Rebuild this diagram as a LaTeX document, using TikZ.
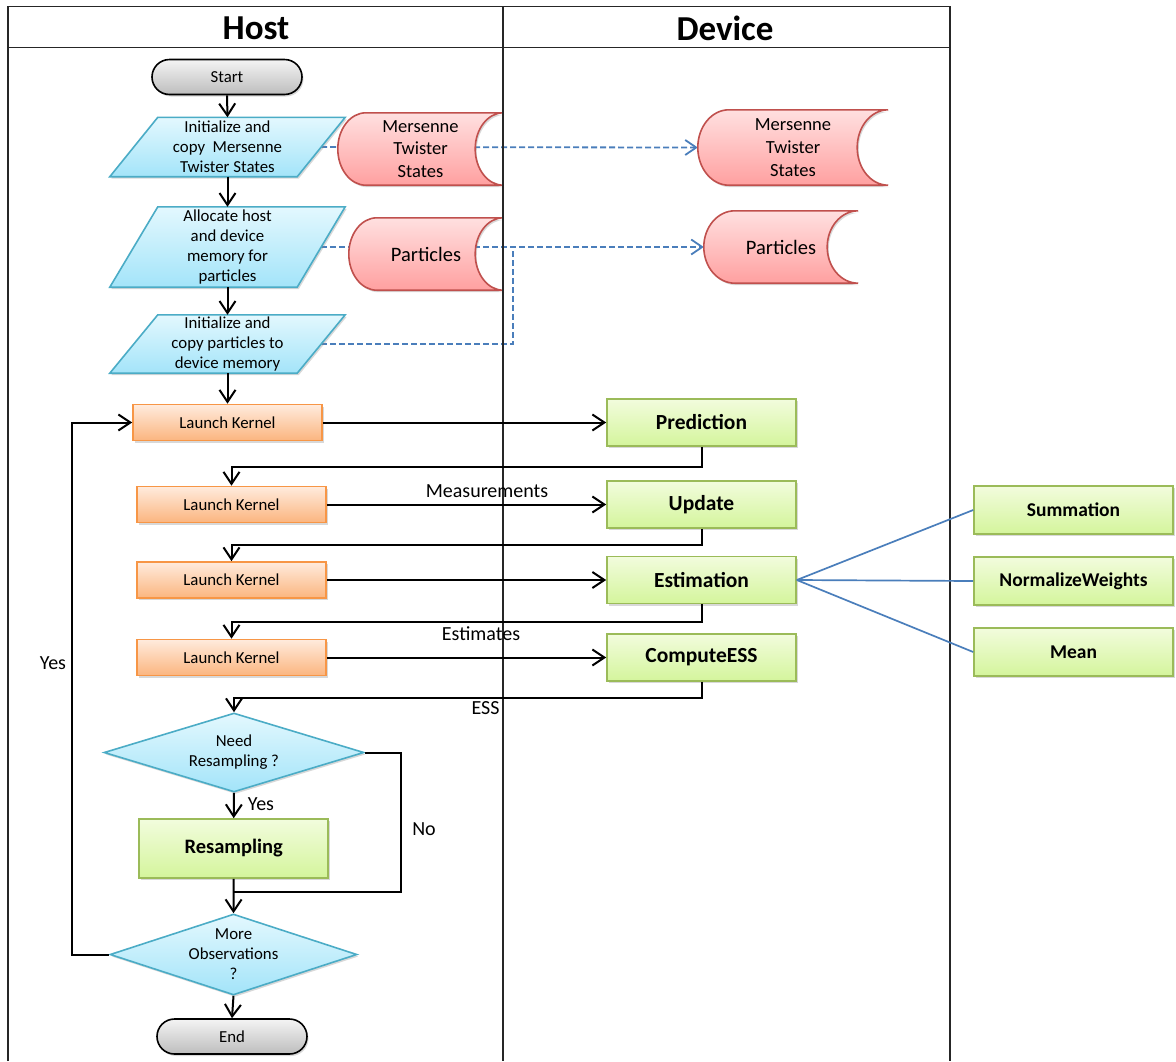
\documentclass[tikz,border=0pt]{standalone}
\usepackage{fontspec}
\setmainfont{Carlito}
\usetikzlibrary{arrows.meta,shapes.geometric,shadows,backgrounds,calc}
\pgfdeclarelayer{bottom}
\pgfsetlayers{bottom,background,main}
\definecolor{cyanB}{HTML}{4BACC6}
\definecolor{cyanT}{HTML}{E3F8FE}
\definecolor{cyanD}{HTML}{A3E4F9}
\definecolor{pinkB}{HTML}{C0504D}
\definecolor{pinkT}{HTML}{FFE0E0}
\definecolor{pinkD}{HTML}{FFA0A0}
\definecolor{orB}{HTML}{F79646}
\definecolor{orT}{HTML}{FFEBDD}
\definecolor{orD}{HTML}{FBB57F}
\definecolor{grB}{HTML}{9BBB59}
\definecolor{grT}{HTML}{F2FCDD}
\definecolor{grD}{HTML}{D4F59C}
\definecolor{gyT}{HTML}{F4F4F4}
\definecolor{gyD}{HTML}{BDBDBD}
\definecolor{lnB}{HTML}{4A7EBB}
\newcommand\pgshapeof[1]{\path[pgshape] ($(#1.south west)+(-24pt,0pt)$) -- ($(#1.south east)+(-24pt,0pt)$) -- ($(#1.north east)+(24pt,0pt)$) -- ($(#1.north west)+(24pt,0pt)$) -- cycle;}
\newcommand\stshapeof[2]{\path[stshape] let \p1=(#1.north west), \p2=(#1.south east), \n1={(\y1-\y2)/2} in
  (\x1+#2pt,\y1) -- (\x2,\y1) arc[start angle=90,end angle=270,x radius=#2pt,y radius=\n1]
  -- (\x1+#2pt,\y2) arc[start angle=270,end angle=90,x radius=#2pt,y radius=\n1] -- cycle;}
\begin{document}
\begin{tikzpicture}[x=1pt,y=-1pt,
  every node/.style={font=\fontsize{16.8}{20}\selectfont},
  shadowsty/.style={drop shadow={shadow xshift=1.5pt,shadow yshift=-2pt,opacity=0.3,fill=black!50}},
  term/.style={draw=black,line width=1.6pt,rounded corners=17.5pt,top color=gyT,bottom color=gyD,minimum width=150pt,minimum height=35pt,inner sep=0pt,shadowsty},
  lk/.style={draw=orB,line width=1.6pt,top color=orT,bottom color=orD,minimum width=189pt,minimum height=36pt,inner sep=0pt,shadowsty},
  gbox/.style={draw=grB,line width=1.6pt,top color=grT,bottom color=grD,minimum width=189pt,minimum height=47pt,inner sep=0pt,font=\bfseries\fontsize{21.5}{25}\selectfont,shadowsty},
  sbox/.style={gbox,minimum width=199pt,minimum height=48pt,font=\bfseries\fontsize{19.5}{23}\selectfont},
  dia/.style={diamond,draw=cyanB,line width=1.6pt,top color=cyanT,bottom color=cyanD,inner sep=0pt,shadowsty},
  pgtext/.style={inner sep=0pt,minimum width=187pt,align=center},
  pgshape/.style={draw=cyanB,line width=1.6pt,top color=cyanT,bottom color=cyanD,shadowsty},
  sttext/.style={inner sep=0pt,align=center,font=\fontsize{18.5}{22.5}\selectfont},
  stshape/.style={draw=pinkB,line width=1.6pt,top color=pinkT,bottom color=pinkD,shadowsty},
  conn/.style={draw=black,line width=2pt,-{Straight Barb[length=12pt,width=16pt]}},
  plain/.style={draw=black,line width=2pt},
  dconn/.style={draw=lnB,line width=1.8pt,dash pattern=on 6pt off 3pt,-{Straight Barb[length=11pt,width=15pt]}},
  dplain/.style={draw=lnB,line width=1.8pt,dash pattern=on 6pt off 3pt},
  bline/.style={draw=lnB,line width=1.7pt},
  lbl/.style={inner sep=0pt,font=\fontsize{20}{24}\selectfont},
  hdr/.style={inner sep=0pt,font=\bfseries\fontsize{35}{40}\selectfont},
  frame/.style={draw=black!85,line width=1.5pt}]
\useasboundingbox (0,0) rectangle (1176,1061);
\begin{pgfonlayer}{bottom}
  \fill[white] (0,0) rectangle (1176,1061);
\end{pgfonlayer}

% frame
\draw[frame] (8,1061) -- (8,6.5) -- (950,6.5) -- (950,1061);
\draw[frame] (8,47.5) -- (950,47.5);
\draw[frame,line width=2pt] (503,6.5) -- (503,1061);
\node[hdr] (hhost) at (256,28) {Host};
\node[hdr] (hdev) at (725,28) {Device};

% host column
\node[term] (start) at (227,77) {Start};
\node[pgtext,minimum height=59pt] (p1) at (227.5,147) {Initialize and\\copy~ Mersenne\\Twister States};
\node[pgtext,minimum height=80pt] (p2) at (227.5,247) {Allocate host\\and device\\memory for\\particles};
\node[pgtext,minimum height=58pt] (p3) at (227.5,344) {Initialize and\\copy particles to\\device memory};
\node[sttext,minimum width=165pt,minimum height=72pt] (s1) at (420.5,149) {Mersenne\\Twister\\States};
\node[sttext,minimum width=154pt,minimum height=72pt,font=\fontsize{20.5}{24}\selectfont] (s2) at (426,254) {Particles};
\node[sttext,minimum width=190pt,minimum height=75pt,font=\fontsize{18.5}{23}\selectfont] (s3) at (793,147.5) {Mersenne\\Twister\\States};
\node[sttext,minimum width=154pt,minimum height=72pt,font=\fontsize{20.5}{24}\selectfont] (s4) at (781,247) {Particles};

\node[lk] (lk1) at (227.5,422.5) {Launch Kernel};
\node[lk] (lk2) at (231.5,504.5) {Launch Kernel};
\node[lk] (lk3) at (231.5,580) {Launch Kernel};
\node[lk] (lk4) at (231.5,657.5) {Launch Kernel};

\node[gbox] (pred) at (701.5,422.5) {Prediction};
\node[gbox] (upd) at (701.5,504.5) {Update};
\node[gbox] (est) at (701.5,580) {Estimation};
\node[gbox] (ess) at (701.5,657.5) {ComputeESS};

\node[sbox] (sum) at (1073.5,510) {Summation};
\node[sbox] (nw) at (1073.5,581) {NormalizeWeights};
\node[sbox] (mean) at (1073.5,652) {Mean};

\node[dia,minimum width=260pt,minimum height=79pt] (d1) at (234,752.5) {};
\node[inner sep=0pt,align=center] (d1t) at (d1.center) {Need\\Resampling ?};
\node[gbox,minimum height=59pt,font=\bfseries\fontsize{20.5}{24}\selectfont] (res) at (233.7,848.5) {Resampling};
\node[dia,minimum width=247pt,minimum height=81pt] (d2) at (233.5,954.5) {};
\node[inner sep=0pt,align=center] (d2t) at (d2.center) {More\\Observations\\?};
\node[term] (end) at (232,1036.5) {End};

% shapes drawn behind the text nodes
\begin{pgfonlayer}{background}
  \pgshapeof{p1}
  \pgshapeof{p2}
  \pgshapeof{p3}
  \stshapeof{s1}{28}
  \stshapeof{s2}{28}
  \stshapeof{s3}{31}
  \stshapeof{s4}{31}
\end{pgfonlayer}

% dashed memory connectors
\coordinate (jn) at (513,247);
\begin{pgfonlayer}{bottom}
  \draw[dconn] (p1.east) -- (s3.west);
  \draw[dconn] (p2.east) -- (s4.west);
  \draw[dplain] (p3.east) -| (jn);
\end{pgfonlayer}

% flow connectors
\draw[conn] (start.south) -- (p1.north);
\draw[conn] (p1.south) -- (p2.north);
\draw[conn] (p2.south) -- (p3.north);
\draw[conn] (p3.south) -- (lk1.north);

\draw[conn] (lk1.east) -- (pred.west);
\draw[conn] (pred.south) -- ++(0,20) -| (lk2.north);
\draw[conn] (lk2.east) -- (upd.west);
\draw[conn] (upd.south) -- ++(0,16.5) -| (lk3.north);
\draw[conn] (lk3.east) -- (est.west);
\draw[conn] (est.south) -- ++(0,18) -| (lk4.north);
\draw[conn] (lk4.east) -- (ess.west);
\draw[conn] (ess.south) -- ++(0,16.5) -| (d1.north);

\draw[bline] (est.east) -- (sum.west);
\draw[bline] (est.east) -- (nw.west);
\draw[bline] (est.east) -- (mean.west);

\node[lbl] (lmeas) at (487,491) {Measurements};
\node[lbl] (lestm) at (481,634) {Estimates};
\node[lbl] (less) at (485.5,708.5) {ESS};

\draw[conn] (d1.south) -- (res.north);
\node[lbl] (lyes1) at (261,804) {Yes};
\coordinate (noc) at (401,892);
\draw[plain] (d1.east) -| (noc) -- (noc -| res.south);
\node[lbl] (lno) at (424,829) {No};
\draw[conn] (res.south) -- (d2.north);
\draw[conn] (d2.south) -- (end.north);

\coordinate (loopc) at (72,700);
\draw[conn] (d2.west) -| (loopc) |- (lk1.west);
\node[lbl] (lyes2) at (53,663) {Yes};
\end{tikzpicture}
\end{document}
